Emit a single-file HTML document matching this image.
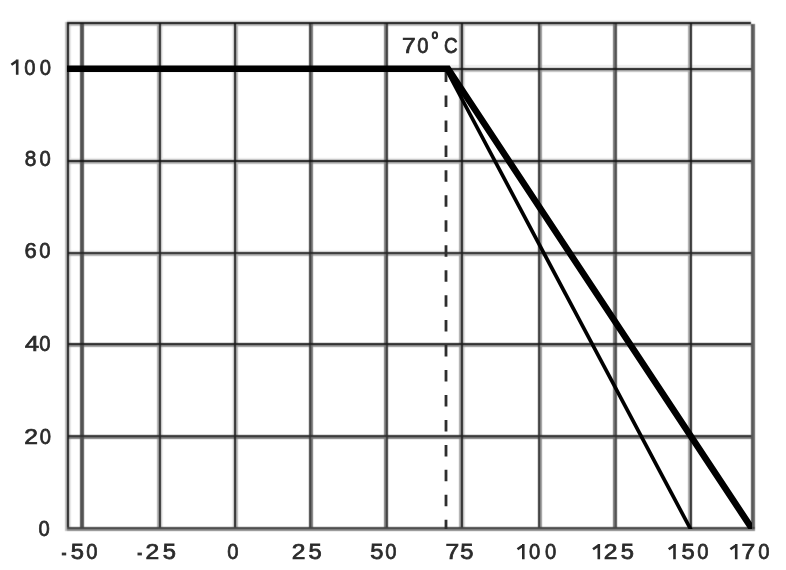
<!DOCTYPE html>
<html><head><meta charset="utf-8">
<style>
html,body{margin:0;padding:0;background:#fff;width:786px;height:570px;overflow:hidden}
svg{display:block}
.one{fill:none;stroke:#2a2a2a;stroke-width:2.6px}
text{font-family:"Liberation Sans",sans-serif;font-size:22px;fill:#2a2a2a;stroke:#2a2a2a;stroke-width:0.75px}
</style></head>
<body>
<svg width="786" height="570" viewBox="0 0 786 570">
<defs><filter id="s" color-interpolation-filters="sRGB" filterUnits="userSpaceOnUse" x="0" y="0" width="786" height="570"><feConvolveMatrix order="3" kernelMatrix="1 4 1 4 16 4 1 4 1" divisor="36" edgeMode="none"/></filter><clipPath id="c"><rect x="0" y="0" width="752" height="529"/></clipPath><filter id="b" filterUnits="userSpaceOnUse" x="0" y="0" width="786" height="570"><feColorMatrix type="identity"/></filter></defs>
<rect width="786" height="570" fill="#fff"/>
<g shape-rendering="crispEdges" filter="url(#s)">
<rect x="67" y="250" width="684" height="2" fill="#f3f3f3"/>
<rect x="67" y="20" width="684" height="2" fill="#ededed"/>
<rect x="232" y="22" width="2" height="509" fill="#ebebeb"/>
<rect x="67" y="65" width="684" height="2" fill="#ebebeb"/>
<rect x="161" y="22" width="2" height="509" fill="#e9e9e9"/>
<rect x="67" y="158" width="684" height="2" fill="#e9e9e9"/>
<rect x="69" y="22" width="2" height="509" fill="#e3e3e3"/>
<rect x="463" y="22" width="2" height="509" fill="#dbdbdb"/>
<rect x="65" y="22" width="2" height="509" fill="#bdbdbd"/>
<rect x="67" y="24" width="684" height="2" fill="#bdbdbd"/>
<rect x="67" y="70" width="684" height="2" fill="#bdbdbd"/>
<rect x="236" y="22" width="2" height="509" fill="#b8b8b8"/>
<rect x="67" y="162" width="684" height="2" fill="#b8b8b8"/>
<rect x="67" y="254" width="684" height="2" fill="#b0b0b0"/>
<rect x="157" y="22" width="2" height="509" fill="#adadad"/>
<rect x="459" y="22" width="2" height="509" fill="#a7a7a7"/>
<rect x="688" y="22" width="2" height="509" fill="#a7a7a7"/>
<rect x="540" y="22" width="2" height="509" fill="#969696"/>
<rect x="67" y="345" width="684" height="2" fill="#969696"/>
<rect x="384" y="22" width="2" height="509" fill="#7d7d7d"/>
<rect x="67" y="437" width="684" height="2" fill="#7d7d7d"/>
<rect x="311" y="22" width="2" height="509" fill="#747474"/>
<rect x="613" y="22" width="2" height="509" fill="#747474"/>
<rect x="80" y="22" width="4" height="509" fill="#535353"/>
<rect x="615" y="22" width="2" height="509" fill="#4e4e4e"/>
<rect x="309" y="22" width="2" height="509" fill="#3e3e3e"/>
<rect x="386" y="22" width="2" height="509" fill="#383838"/>
<rect x="538" y="22" width="2" height="509" fill="#343434"/>
<rect x="67" y="435" width="684" height="2" fill="#2e2e2e"/>
<rect x="159" y="22" width="2" height="509" fill="#272727"/>
<rect x="690" y="22" width="2" height="509" fill="#272727"/>
<rect x="67" y="252" width="684" height="2" fill="#272727"/>
<rect x="234" y="22" width="2" height="509" fill="#222222"/>
<rect x="461" y="22" width="2" height="509" fill="#222222"/>
<rect x="67" y="22" width="2" height="509" fill="#1e1e1e"/>
<rect x="67" y="343" width="684" height="2" fill="#1e1e1e"/>
<rect x="67" y="22" width="684" height="2" fill="#161616"/>
<rect x="67" y="68" width="684" height="2" fill="#161616"/>
<rect x="67" y="160" width="684" height="2" fill="#161616"/>
<rect x="751" y="24" width="2" height="507" fill="#555"/><rect x="753" y="24" width="2" height="507" fill="#666"/>
<rect x="67" y="529" width="688" height="2" fill="#888"/><rect x="67" y="527" width="688" height="2" fill="#444"/>
</g>
<g filter="url(#b)">
<line x1="446" y1="70.5" x2="446" y2="529" stroke="#2e2e2e" stroke-width="2.8" stroke-dasharray="11.5 13.46"/>
<g clip-path="url(#c)"><polyline points="67,68.8 448,68.8 754.14,532" fill="none" stroke="#000" stroke-width="6.5" stroke-linejoin="miter"/>
<line x1="446" y1="69" x2="692.12" y2="532" stroke="#000" stroke-width="3.7"/></g>
<path class="one" d="M17.2 59.6V74.7M17.5 60.5L11.4 64.8"/>
<text transform="translate(30.0 74.7) scale(0.92 1)" x="-6.12" y="0">0</text>
<text transform="translate(45.3 74.7) scale(0.92 1)" x="-6.12" y="0">0</text>
<text transform="translate(30.5 166.4) scale(0.95 1)" x="-6.12" y="0">8</text>
<text transform="translate(45.2 166.4) scale(0.92 1)" x="-6.12" y="0">0</text>
<text transform="translate(30.6 258.2) scale(1.00 1)" x="-6.19" y="0">6</text>
<text transform="translate(45.0 258.2) scale(0.92 1)" x="-6.12" y="0">0</text>
<text transform="translate(32.0 350.8) scale(1.15 1)" x="-6.05" y="0">4</text>
<text transform="translate(45.0 350.8) scale(0.92 1)" x="-6.12" y="0">0</text>
<text transform="translate(31.0 444.3) scale(1.12 1)" x="-6.12" y="0">2</text>
<text transform="translate(45.3 444.3) scale(0.92 1)" x="-6.12" y="0">0</text>
<text transform="translate(44.2 536.3) scale(0.92 1)" x="-6.12" y="0">0</text>
<rect x="61.8" y="552.6" width="4.4" height="2.8" fill="#333"/>
<text transform="translate(77.3 559.2) scale(1.08 1)" x="-6.09" y="0">5</text>
<text transform="translate(92.0 559.2) scale(0.92 1)" x="-6.12" y="0">0</text>
<rect x="137.5" y="552.6" width="4.4" height="2.8" fill="#333"/>
<text transform="translate(152.4 559.2) scale(1.12 1)" x="-6.12" y="0">2</text>
<text transform="translate(169.2 559.2) scale(1.08 1)" x="-6.09" y="0">5</text>
<text transform="translate(232.8 559.2) scale(0.92 1)" x="-6.12" y="0">0</text>
<text transform="translate(298.5 559.2) scale(1.12 1)" x="-6.12" y="0">2</text>
<text transform="translate(315.1 559.2) scale(1.08 1)" x="-6.09" y="0">5</text>
<text transform="translate(376.7 559.2) scale(1.08 1)" x="-6.09" y="0">5</text>
<text transform="translate(391.0 559.2) scale(0.92 1)" x="-6.12" y="0">0</text>
<text transform="translate(452.3 559.2) scale(1.12 1)" x="-6.13" y="0">7</text>
<text transform="translate(466.7 559.2) scale(1.08 1)" x="-6.09" y="0">5</text>
<path class="one" d="M523.3 544.1V559.2M523.6 545.0L517.5 549.3"/>
<text transform="translate(534.6 559.2) scale(0.92 1)" x="-6.12" y="0">0</text>
<text transform="translate(550.7 559.2) scale(0.92 1)" x="-6.12" y="0">0</text>
<path class="one" d="M598.8 544.1V559.2M599.1 545.0L593.0 549.3"/>
<text transform="translate(610.7 559.2) scale(1.12 1)" x="-6.12" y="0">2</text>
<text transform="translate(627.4 559.2) scale(1.08 1)" x="-6.09" y="0">5</text>
<path class="one" d="M674.5 544.1V559.2M674.8 545.0L668.7 549.3"/>
<text transform="translate(688.0 559.2) scale(1.08 1)" x="-6.09" y="0">5</text>
<text transform="translate(702.9 559.2) scale(0.92 1)" x="-6.12" y="0">0</text>
<path class="one" d="M736.2 544.1V559.2M736.5 545.0L730.4 549.3"/>
<text transform="translate(748.4 559.2) scale(1.12 1)" x="-6.13" y="0">7</text>
<text transform="translate(764.0 559.2) scale(0.92 1)" x="-6.12" y="0">0</text>
<text transform="translate(408.8 52.9) scale(1.12 1)" x="-6.13" y="0">7</text>
<text transform="translate(422.8 52.9) scale(0.92 1)" x="-6.12" y="0">0</text>
<ellipse cx="434.9" cy="35.2" rx="2.2" ry="3" fill="none" stroke="#2a2a2a" stroke-width="2"/>
<text transform="translate(450.7 52.9) scale(0.86 1)" x="-7.7" y="0">C</text>
</g>
</svg>
</body></html>
